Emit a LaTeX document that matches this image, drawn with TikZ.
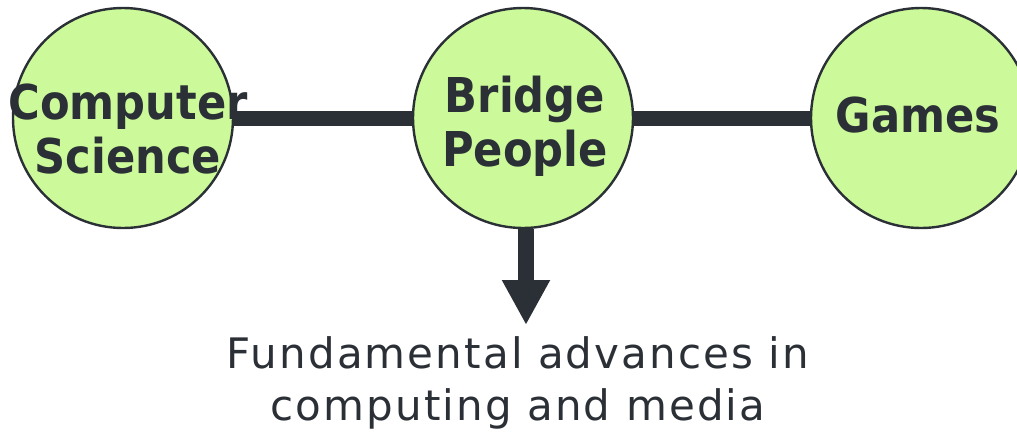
\documentclass[tikz,border=0pt]{standalone}
\usepackage{fontspec}
\setmainfont{DejaVu Sans}
\newfontfamily\headfont{DejaVu Sans Condensed}
\newfontfamily\bodyfont{DejaVu Sans}[LetterSpace=5]
\usetikzlibrary{arrows.meta}
\definecolor{ink}{HTML}{2B2F36}
\definecolor{leaf}{HTML}{CCFA9A}
\tikzset{
  ball/.style={circle, draw=ink, line width=2.4pt, fill=leaf, minimum size=220pt, inner sep=0pt},
  link/.style={draw=ink, line width=15pt},
  headtext/.style={text=ink, font=\headfont\bfseries\fontsize{48}{54}\selectfont,
    align=center, anchor=base, inner sep=0pt},
  bodytext/.style={text=ink, font=\bodyfont\fontsize{42}{52}\selectfont,
    align=center, anchor=base, inner sep=0pt}
}
\begin{document}
\begin{tikzpicture}[x=1pt, y=-1pt]
  \useasboundingbox (0,0) rectangle (1017,432);
  % the three topic circles
  \node[ball] (cs) at (123,118) {};
  \node[ball] (bp) at (523,118) {};
  \node[ball] (gm) at (921,118) {};
  % connectors
  \draw[link] (cs) -- (bp);
  \draw[link] (bp) -- (gm);
  \coordinate (tip) at (526,325);
  \draw[link, line width=16pt, -{Triangle[width=45pt,length=45pt]}] (bp.south -| tip) -- (tip);
  % circle labels (anchored at the baseline of their last line)
  \node[headtext] (cslabel) at (128,173) {Computer\\Science};
  \node[headtext] (bplabel) at (525,166) {Bridge\\People};
  \node[headtext] (gmlabel) at (918,132) {Games};
  % outcome text
  \node[bodytext] (adv) at (518,420) {Fundamental advances in\\computing and media};
\end{tikzpicture}
\end{document}
